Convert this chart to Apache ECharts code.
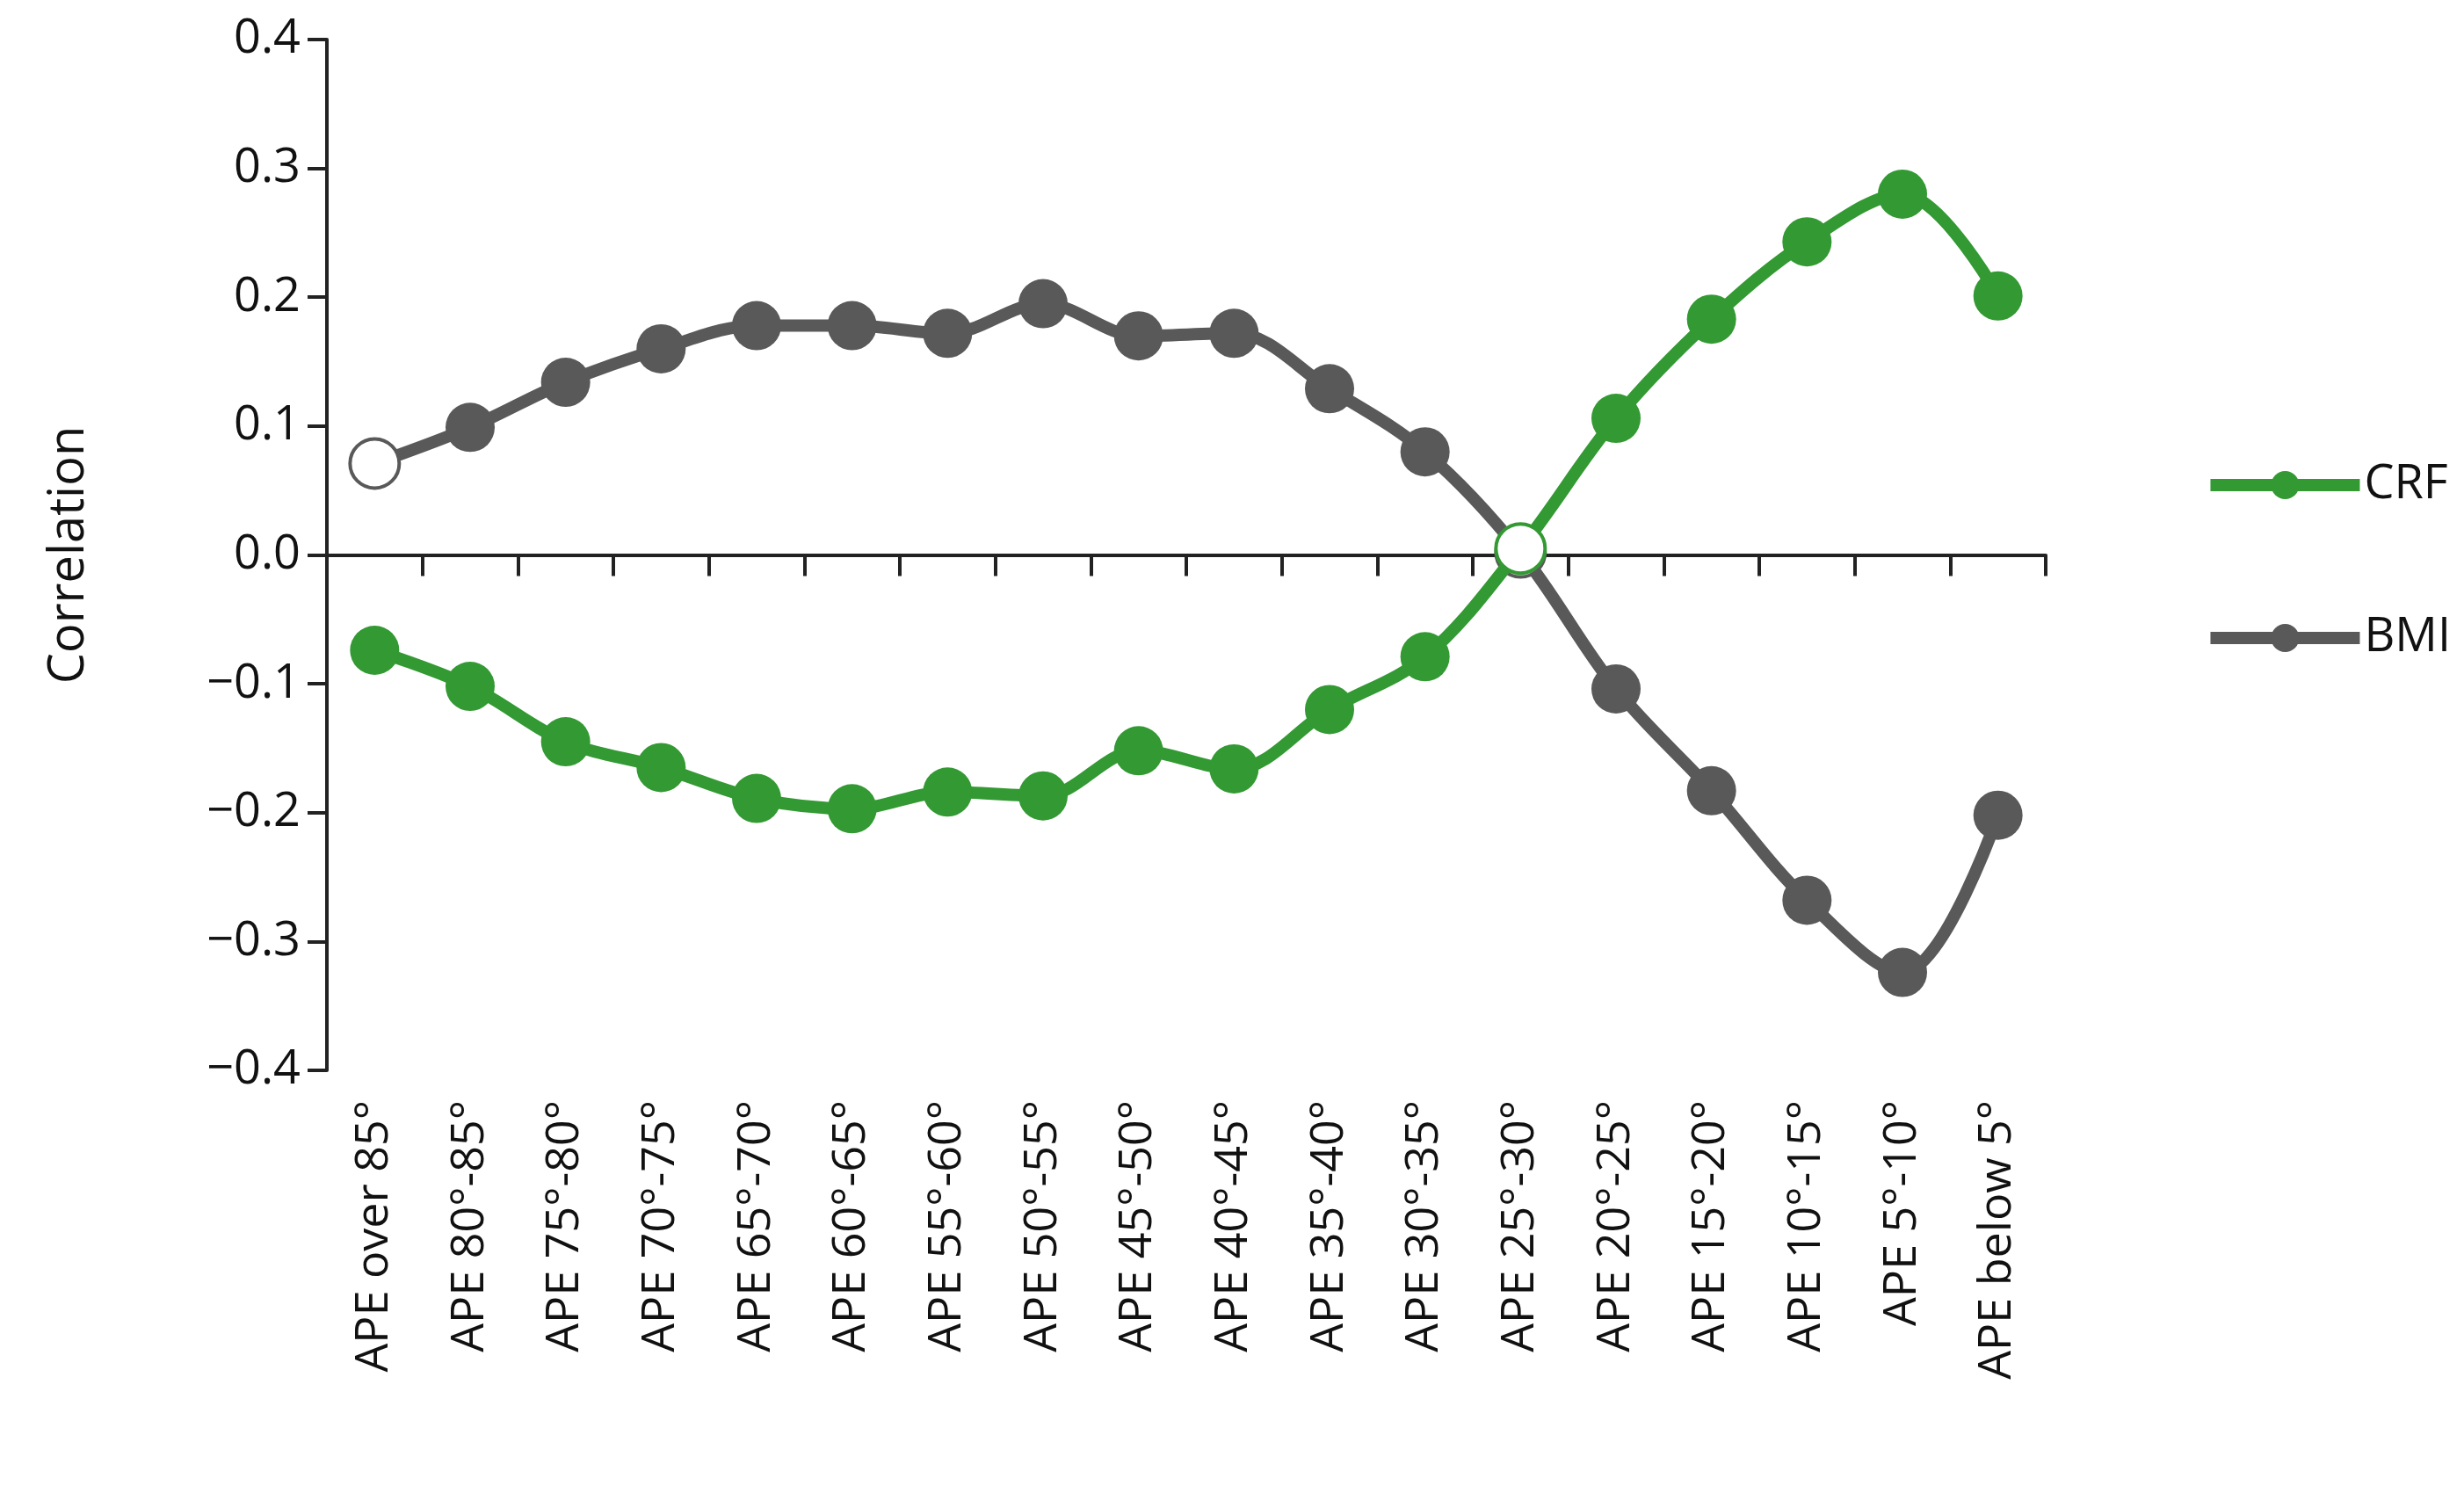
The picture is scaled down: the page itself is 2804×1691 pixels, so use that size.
<!DOCTYPE html>
<html>
<head>
<meta charset="utf-8">
<script src="https://cdn.jsdelivr.net/npm/echarts@6/dist/echarts.min.js"></script>
<style>html,body{margin:0;background:#fff}#main{width:2804px;height:1691px}</style>
</head>
<body>
<div id="main"></div>
<script>
const categories = ['APE over 85°','APE 80°-85°','APE 75°-80°','APE 70°-75°','APE 65°-70°','APE 60°-65°','APE 55°-60°','APE 50°-55°','APE 45°-50°','APE 40°-45°','APE 35°-40°','APE 30°-35°','APE 25°-30°','APE 20°-25°','APE 15°-20°','APE 10°-15°','APE 5°-10°','APE below 5°']
const crf = [-0.074,-0.102,-0.145,-0.165,-0.189,-0.197,-0.184,-0.187,-0.152,-0.166,-0.12,-0.079,0.005,0.106,0.183,0.243,0.28,0.201]
const bmi = [0.071,0.099,0.134,0.16,0.178,0.178,0.172,0.195,0.17,0.172,0.129,0.08,0.002,-0.104,-0.183,-0.268,-0.324,-0.202]
// points drawn as open circles
const hollowCrf = [12]
const hollowBmi = [0, 12]

const green = '#339933'
const gray = '#595959'
const font = 'Open Sans'

function pts(vals, hollow, color) {
    return vals.map((v, i) => hollow.includes(i)
        ? { value: v, itemStyle: { color: '#fff', borderColor: color, borderWidth: 4 } }
        : v)
}

function line(name, vals, hollow, color, z) {
    return {
        name, type: 'line', smooth: 0.35, z,
        data: pts(vals, hollow, color),
        symbol: 'circle', symbolSize: 56,
        lineStyle: { color, width: 14 },
        itemStyle: { color },
    }
}

const chart = echarts.init(document.getElementById('main'))
chart.setOption({
    animation: false,
    grid: { left: 372, right: 476, top: 45, bottom: 473 },
    legend: {
        orient: 'vertical', right: 10, top: 520, itemGap: 120,
        itemWidth: 170, itemHeight: 40,
        lineStyle: { width: 14 },
        textStyle: { fontFamily: font, fontSize: 54, color: '#111' },
        data: ['CRF', 'BMI'],
    },
    xAxis: [
        {
            type: 'category', data: categories,
            axisLine: { onZero: true, lineStyle: { color: '#222', width: 4 } },
            axisTick: { show: true, interval: 0, length: 24, lineStyle: { color: '#222', width: 4 } },
            axisLabel: { show: false },
        },
        {
            type: 'category', data: categories, position: 'bottom',
            axisLine: { show: false }, axisTick: { show: false },
            axisLabel: { interval: 0, rotate: 90, margin: 34, fontFamily: font, fontSize: 52, color: '#111' },
        },
    ],
    yAxis: {
        type: 'value', min: -0.4, max: 0.4, interval: 0.1,
        name: 'Correlation', nameLocation: 'middle', nameGap: 265,
        nameTextStyle: { fontFamily: font, fontSize: 56, color: '#111' },
        axisLine: { show: true, lineStyle: { color: '#222', width: 4 } },
        axisTick: { show: true, length: 22, lineStyle: { color: '#222', width: 4 } },
        splitLine: { show: false },
        axisLabel: {
            margin: 30, fontFamily: font, fontSize: 54, color: '#111',
            formatter: v => (v < 0 ? '\u2212' + Math.abs(v).toFixed(1) : v.toFixed(1)),
        },
    },
    series: [
        line('BMI', bmi, hollowBmi, gray, 2),
        line('CRF', crf, hollowCrf, green, 3),
    ],
})
</script>
</body>
</html>
